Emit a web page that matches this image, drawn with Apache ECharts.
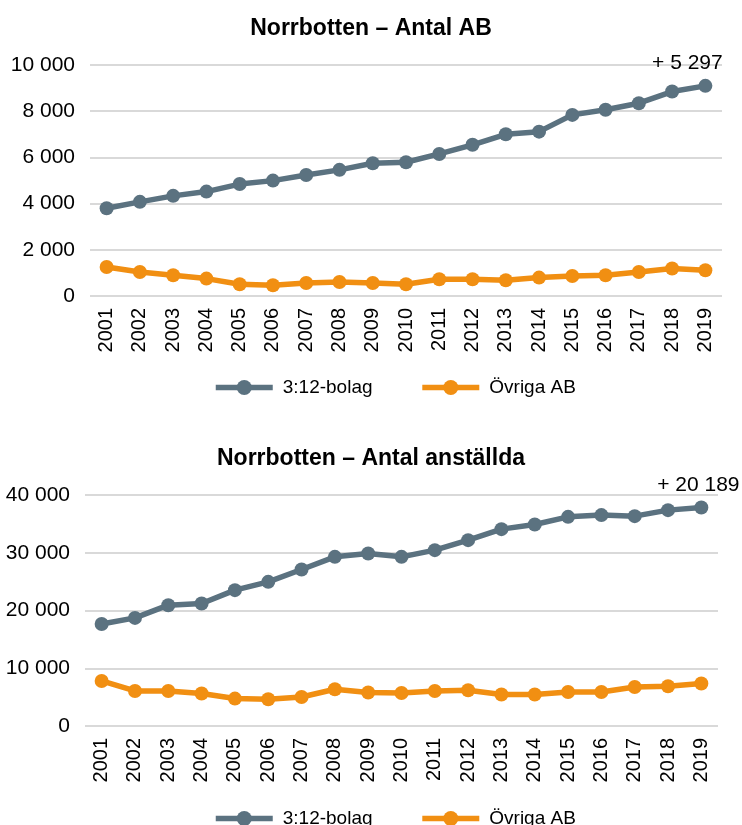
<!DOCTYPE html>
<html>
<head>
<meta charset="utf-8">
<script src="https://cdn.jsdelivr.net/npm/echarts@6/dist/echarts.min.js"></script>
<style>
html,body{margin:0;padding:0;background:#fff;}
#c{width:742px;height:825px;}
</style>
</head>
<body>
<div id="c"></div>
<script>
const years = ['2001','2002','2003','2004','2005','2006','2007','2008','2009','2010','2011','2012','2013','2014','2015','2016','2017','2018','2019'];
const seriesNames = ['3:12-bolag', 'Övriga AB'];
const titles = ['Norrbotten – Antal AB', 'Norrbotten – Antal anställda'];

const ab312 = [3800, 4075, 4335, 4520, 4846, 4995, 5236, 5460, 5745, 5790, 6150, 6545, 7000, 7115, 7840, 8060, 8347, 8850, 9097];
const abOvriga = [1258, 1041, 898, 753, 508, 464, 564, 607, 564, 508, 724, 724, 681, 797, 868, 898, 1041, 1189, 1115];

const emp312 = [17650, 18720, 20920, 21210, 23520, 24960, 27100, 29290, 29880, 29290, 30450, 32180, 34090, 34900, 36220, 36520, 36340, 37380, 37839];
const empOvriga = [7800, 6066, 6066, 5615, 4748, 4627, 5026, 6360, 5788, 5719, 6066, 6187, 5442, 5442, 5893, 5893, 6759, 6880, 7348];

const yMax = [10000, 40000];
const yStep = [2000, 10000];

const GRAY = '#5b7280';
const ORANGE = '#f18f12';
const FONT = '"Liberation Sans", Arial, sans-serif';

function fmt(v) {
  return String(Math.round(v)).replace(/\B(?=(\d{3})+(?!\d))/g, ' ');
}

function withChangeLabel(arr, dx) {
  const diff = arr[arr.length - 1] - arr[0];
  return arr.map((v, i) => {
    if (i !== arr.length - 1) return v;
    return {
      value: v,
      label: {
        show: true,
        position: 'top',
        distance: 5,
        offset: [dx, 0],
        formatter: '+ ' + fmt(diff),
        color: '#000',
        fontSize: 21,
        fontFamily: FONT
      }
    };
  });
}

const grids = [
  {left: 90, right: 20, top: 65, height: 231},
  {left: 85, right: 24, top: 495, height: 231}
];

const chart = echarts.init(document.getElementById('c'), null, {renderer: 'canvas'});

const lineSeries = (name, data, color, idx) => ({
  name: name,
  type: 'line',
  xAxisIndex: idx,
  yAxisIndex: idx,
  data: data,
  symbol: 'circle',
  symbolSize: 14,
  showSymbol: true,
  lineStyle: {color: color, width: 5.5},
  itemStyle: {color: color},
  emphasis: {disabled: true},
  animation: false,
  z: name === seriesNames[0] ? 3 : 2
});

const legendBase = (top) => ({
  data: seriesNames, left: 208, top: top, itemWidth: 57, itemHeight: 19, itemGap: 47,
  textStyle: {fontFamily: FONT, fontSize: 19, color: '#000', padding: [0, 0, 0, 5]},
  lineStyle: {width: 5.5}
});

const option = {
  backgroundColor: '#fff',
  animation: false,
  title: [
    {text: titles[0], left: 'center', top: 12, textStyle: {fontFamily: FONT, fontSize: 23, fontWeight: 'bold', color: '#000'}},
    {text: titles[1], left: 'center', top: 442, textStyle: {fontFamily: FONT, fontSize: 23, fontWeight: 'bold', color: '#000'}}
  ],
  legend: [legendBase(373), legendBase(804)],
  grid: grids,
  xAxis: [0, 1].map(i => ({
    type: 'category',
    gridIndex: i,
    data: years,
    boundaryGap: true,
    axisLine: {show: false},
    axisTick: {show: false},
    axisLabel: {rotate: 90, margin: 12, fontSize: 20, fontFamily: FONT, color: '#000'}
  })),
  yAxis: [0, 1].map(i => ({
    type: 'value',
    gridIndex: i,
    min: 0,
    max: yMax[i],
    interval: yStep[i],
    axisLine: {show: false},
    axisTick: {show: false},
    splitLine: {lineStyle: {color: '#d9d9d9', width: 2}},
    axisLabel: {margin: 15, fontSize: 21, fontFamily: FONT, color: '#000', formatter: v => fmt(v)}
  })),
  series: [
    lineSeries(seriesNames[0], withChangeLabel(ab312, -18), GRAY, 0),
    lineSeries(seriesNames[1], abOvriga, ORANGE, 0),
    lineSeries(seriesNames[0], withChangeLabel(emp312, -3), GRAY, 1),
    lineSeries(seriesNames[1], empOvriga, ORANGE, 1)
  ]
};

chart.setOption(option);
</script>
</body>
</html>
